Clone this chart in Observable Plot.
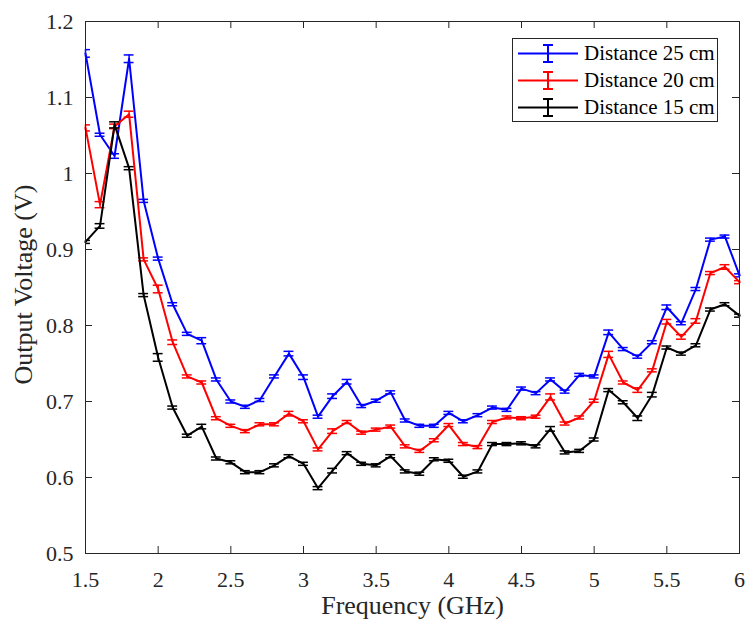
<!DOCTYPE html>
<html>
<head>
<meta charset="utf-8">
<script src="https://cdn.jsdelivr.net/npm/d3@7"></script>
<script src="https://cdn.jsdelivr.net/npm/@observablehq/plot@0.6"></script>
<style>
  html, body { margin: 0; padding: 0; background: #fff; font-family: "Liberation Serif", serif; }
  #wrap { position: relative; width: 746px; height: 626px; }
  #legend { position: absolute; left: 512px; top: 38px; width: 206px; height: 84px; box-sizing: border-box;
            border: 1px solid #262626; background: #fff; font-family: "Liberation Serif", serif; font-size: 21px; color: #000; }
  #legend .row { position: absolute; left: 0; height: 27px; width: 204px; }
  #legend .row svg { position: absolute; left: 5px; top: 0; }
  #legend .row span { position: absolute; left: 71px; top: 0; line-height: 27px; white-space: nowrap; }
</style>
</head>
<body>
<div id="wrap">
  <div id="chart"></div>
  <div id="legend">
    <div class="row" style="top:1px"><svg width="62" height="27"><line x1="0" x2="60" y1="13.5" y2="13.5" stroke="#0000ff" stroke-width="2"/><line x1="30" x2="30" y1="5" y2="22" stroke="#0000ff" stroke-width="2"/><line x1="25" x2="35" y1="5" y2="5" stroke="#0000ff" stroke-width="2"/><line x1="25" x2="35" y1="22" y2="22" stroke="#0000ff" stroke-width="2"/></svg><span>Distance 25 cm</span></div>
    <div class="row" style="top:28px"><svg width="62" height="27"><line x1="0" x2="60" y1="13.5" y2="13.5" stroke="#ff0000" stroke-width="2"/><line x1="30" x2="30" y1="5" y2="22" stroke="#ff0000" stroke-width="2"/><line x1="25" x2="35" y1="5" y2="5" stroke="#ff0000" stroke-width="2"/><line x1="25" x2="35" y1="22" y2="22" stroke="#ff0000" stroke-width="2"/></svg><span>Distance 20 cm</span></div>
    <div class="row" style="top:55px"><svg width="62" height="27"><line x1="0" x2="60" y1="13.5" y2="13.5" stroke="#000000" stroke-width="2"/><line x1="30" x2="30" y1="5" y2="22" stroke="#000000" stroke-width="2"/><line x1="25" x2="35" y1="5" y2="5" stroke="#000000" stroke-width="2"/><line x1="25" x2="35" y1="22" y2="22" stroke="#000000" stroke-width="2"/></svg><span>Distance 15 cm</span></div>
  </div>
</div>
<script>
const freq = [1.5,1.6,1.7,1.8,1.9,2.0,2.1,2.2,2.3,2.4,2.5,2.6,2.7,2.8,2.9,3.0,3.1,3.2,3.3,3.4,3.5,3.6,3.7,3.8,3.9,4.0,4.1,4.2,4.3,4.4,4.5,4.6,4.7,4.8,4.9,5.0,5.1,5.2,5.3,5.4,5.5,5.6,5.7,5.8,5.9,6.0];

const v25 = [1.158,1.051,1.023,1.151,0.964,0.888,0.828,0.789,0.780,0.729,0.700,0.693,0.702,0.733,0.763,0.732,0.680,0.707,0.726,0.694,0.701,0.712,0.675,0.668,0.668,0.685,0.674,0.682,0.692,0.689,0.717,0.711,0.729,0.713,0.735,0.733,0.791,0.769,0.759,0.778,0.824,0.803,0.848,0.913,0.917,0.866];
const e25 = [0.005,0.002,0.003,0.005,0.002,0.002,0.002,0.002,0.004,0.002,0.002,0.002,0.002,0.002,0.003,0.003,0.002,0.003,0.003,0.002,0.002,0.002,0.002,0.002,0.002,0.002,0.002,0.002,0.002,0.002,0.002,0.002,0.002,0.002,0.002,0.002,0.003,0.002,0.002,0.002,0.003,0.002,0.002,0.002,0.002,0.002];

const v20 = [1.060,0.959,1.062,1.078,0.887,0.848,0.778,0.733,0.725,0.678,0.668,0.661,0.670,0.670,0.684,0.674,0.637,0.661,0.673,0.659,0.663,0.667,0.641,0.635,0.649,0.669,0.644,0.640,0.673,0.679,0.678,0.680,0.706,0.671,0.679,0.701,0.762,0.725,0.715,0.741,0.805,0.785,0.806,0.869,0.877,0.857];
const e20 = [0.004,0.004,0.003,0.004,0.002,0.005,0.003,0.002,0.002,0.002,0.002,0.002,0.002,0.002,0.003,0.002,0.002,0.003,0.002,0.002,0.002,0.002,0.002,0.002,0.002,0.002,0.002,0.002,0.002,0.002,0.002,0.002,0.004,0.002,0.002,0.002,0.004,0.002,0.003,0.002,0.003,0.003,0.003,0.002,0.003,0.002];

const v15 = [0.910,0.931,1.064,1.007,0.840,0.758,0.692,0.655,0.667,0.625,0.620,0.607,0.607,0.616,0.628,0.618,0.586,0.609,0.632,0.618,0.616,0.628,0.608,0.605,0.624,0.622,0.601,0.608,0.644,0.644,0.645,0.641,0.664,0.633,0.635,0.650,0.715,0.699,0.678,0.709,0.771,0.763,0.774,0.821,0.828,0.813];
const e15 = [0.002,0.003,0.004,0.002,0.002,0.005,0.002,0.002,0.003,0.002,0.002,0.002,0.002,0.002,0.002,0.002,0.002,0.003,0.002,0.002,0.002,0.002,0.002,0.002,0.002,0.002,0.002,0.002,0.002,0.002,0.002,0.002,0.003,0.002,0.002,0.002,0.002,0.002,0.003,0.003,0.002,0.002,0.002,0.002,0.002,0.002];

const seriesNames = ["Distance 25 cm", "Distance 20 cm", "Distance 15 cm"];
const seriesColors = ["#0000ff", "#ff0000", "#000000"];
const xTicks = [1.5,2,2.5,3,3.5,4,4.5,5,5.5,6];
const yTicks = [0.5,0.6,0.7,0.8,0.9,1,1.1,1.2];

const allValues = [v25, v20, v15];
const allErrors = [e25, e20, e15];
const data = [];
allValues.forEach((vals, s) => {
  vals.forEach((v, i) => {
    data.push({series: seriesNames[s], x: freq[i], v, e: allErrors[s][i]});
  });
});

const W = 746, H = 626;
const mT = 21, mB = 73, mL = 85, mR = 7;
const innerH = H - mT - mB, innerW = W - mL - mR;
const tickLen = 7;
const capHalf = 0.034;
const axisColor = "#262626";
const font = "Liberation Serif";

const marks = [];
seriesNames.forEach((name, s) => {
  const d = data.filter(r => r.series === name);
  const col = seriesColors[s];
  marks.push(Plot.line(d, {x: "x", y: "v", stroke: col, strokeWidth: 2}));
  marks.push(Plot.ruleX(d, {x: "x", y1: r => r.v - r.e, y2: r => r.v + r.e, stroke: col, strokeWidth: 1.5}));
  marks.push(Plot.ruleY(d, {y: r => r.v + r.e, x1: r => r.x - capHalf, x2: r => r.x + capHalf, stroke: col, strokeWidth: 1.5, clip: true}));
  marks.push(Plot.ruleY(d, {y: r => r.v - r.e, x1: r => r.x - capHalf, x2: r => r.x + capHalf, stroke: col, strokeWidth: 1.5, clip: true}));
});

const plot = Plot.plot({
  width: W,
  height: H,
  marginTop: mT,
  marginBottom: mB,
  marginLeft: mL,
  marginRight: mR,
  x: {domain: [1.5, 6]},
  y: {domain: [0.5, 1.2]},
  marks: [
    ...marks,
    Plot.frame({stroke: axisColor, strokeWidth: 1}),
    // inward ticks on all four sides
    Plot.ruleX(xTicks, {x: d => d, insetTop: innerH - tickLen, stroke: axisColor}),
    Plot.ruleX(xTicks, {x: d => d, insetBottom: innerH - tickLen, stroke: axisColor}),
    Plot.ruleY(yTicks, {y: d => d, insetRight: innerW - tickLen, stroke: axisColor}),
    Plot.ruleY(yTicks, {y: d => d, insetLeft: innerW - tickLen, stroke: axisColor}),
    Plot.axisX(xTicks, {tickSize: 0, tickPadding: 18, tickFormat: d => String(d), label: null, fontSize: 22, fontFamily: font, fill: axisColor}),
    Plot.axisY(yTicks, {tickSize: 0, tickPadding: 12, tickFormat: d => String(d), label: null, fontSize: 22, fontFamily: font, fill: axisColor}),
    Plot.text(["Frequency (GHz)"], {frameAnchor: "bottom", lineAnchor: "middle", textAnchor: "middle", dy: 52, fontSize: 26, fontFamily: font, fill: axisColor}),
    Plot.text(["Output Voltage (V)"], {frameAnchor: "left", lineAnchor: "middle", textAnchor: "middle", dx: -62, dy: -3, rotate: -90, fontSize: 26, fontFamily: font, fill: axisColor})
  ]
});

document.getElementById("chart").appendChild(plot);
</script>
</body>
</html>
